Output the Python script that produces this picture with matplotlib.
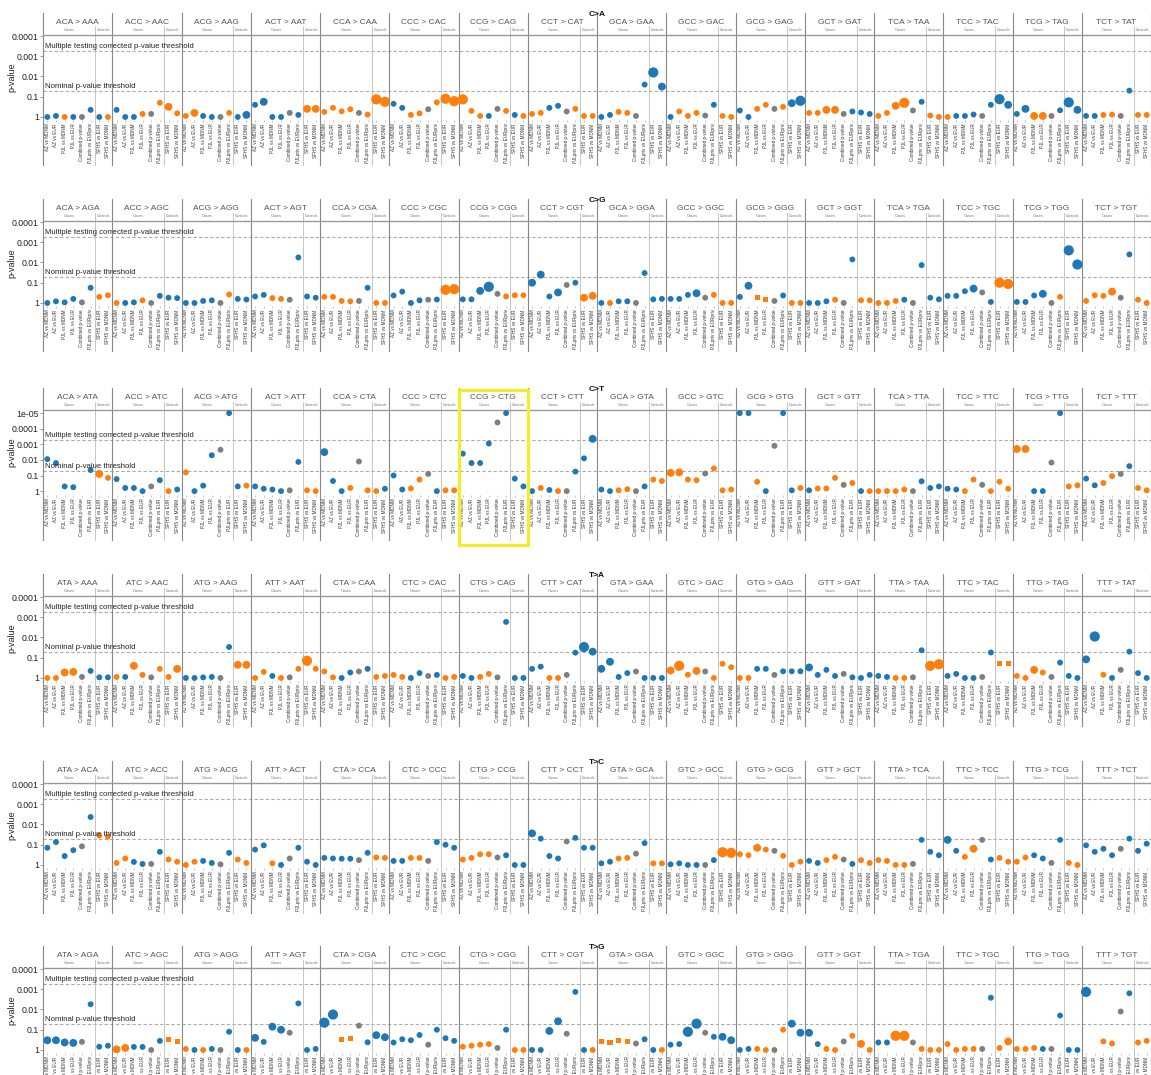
import numpy as np
import matplotlib.pyplot as plt
from matplotlib.transforms import blended_transform_factory
from matplotlib.patches import Rectangle

plt.rcParams['font.family'] = ['Liberation Sans', 'DejaVu Sans']

nan = float('nan')

# comparisons inside each context (6 cases + 2 controls)
comparisons = ["AZ vs MDNM", "AZ vs EUR", "PJL vs MDNM", "PJL vs EUR",
               "Combined p-value", "PJLpriv vs EURpriv", "SFHS vs EUR", "SFHS vs MDNM"]
comparisons_ct = comparisons[:5] + ["PJLpriv vs EUR"] + comparisons[6:]

flank5 = ["A", "A", "A", "A", "C", "C", "C", "C", "G", "G", "G", "G", "T", "T", "T", "T"]
flank3 = ["A", "C", "G", "T"] * 4

# -log10(p), one list of 8 per context
ca_nlp = [[0, 0.05, 0, 0, 0, 0.35, 0, 0], [0.35, 0, 0, 0.15, 0.15, 0.7, 0.5, 0.18],
          [0.05, 0.2, 0.05, 0, 0, 0.2, 0, 0.1], [0.6, 0.75, 0, 0, 0.2, 0.1, 0.4, 0.4],
          [0.25, 0.45, 0.28, 0.38, 0.2, 0.12, 0.87, 0.75], [0.65, 0.45, 0.1, 0.18, 0.38, 0.72, 0.9, 0.78],
          [0.87, 0.3, 0.05, 0.05, 0.4, 0.3, 0.1, 0.05], [0.15, 0.2, 0.45, 0.55, 0.27, 0.4, 0.05, 0.05],
          [0, 0.1, 0.25, 0.2, 0.05, 1.6, 2.2, 1.5], [0, 0.27, 0.05, 0.2, 0.07, 0.6, 0.05, 0],
          [0.32, 0, 0.4, 0.6, 0.4, 0.5, 0.68, 0.8], [0.2, 0.2, 0.35, 0.35, 0.15, 0.27, 0.22, 0.15],
          [0.05, 0.2, 0.55, 0.7, 0.32, 0.75, 0.07, 0], [0, 0.05, 0.05, 0.12, 0.05, 0.6, 0.88, 0.6],
          [0.15, 0.4, 0.05, 0.05, 0.05, 0.33, 0.72, 0.35], [0.05, 0.05, 0.1, 0.12, 0.05, 1.3, 0.1, 0.1]]
ca_col = "bbobgbbo bbbogooo oobbgobb bbbbgboo oooogooo bboogooo ooobgobo oobbgooo " \
         "bboogbbb booogboo bboogobb oooogbbb oooogboo obbbgbbb bboogbbb bboogboo"
ca_size = "11111111 11111121 12111112 12111122 11111133 11111133 31111111 11111111 " \
          "11111132 11111111 11111123 11221111 11231111 11111132 12221132 11111111"

cg_nlp = [[0, 0.08, 0.03, 0.2, 0.03, 0.75, 0.3, 0.38], [0, 0, 0.03, 0.13, 0, 0.35, 0.26, 0.24],
          [0, 0, 0.1, 0.13, 0, 0.42, 0.2, 0.17], [0.32, 0.4, 0.24, 0.2, 0.16, 2.25, 0.32, 0.26],
          [0.3, 0.3, 0.1, 0.08, 0.1, 0.75, 0, 0], [0.37, 0.56, 0, 0.13, 0.16, 0.17, 0.65, 0.68],
          [0.18, 0.18, 0.6, 0.8, 0.45, 0.32, 0.38, 0.38], [1.0, 1.4, 0.32, 0.52, 0.89, 1.0, 0.26, 0.35],
          [0, 0, 0.08, 0.08, 0, 1.48, 0.18, 0.2], [0.2, 0.2, 0.4, 0.48, 0.26, 0.4, 0, 0],
          [0.3, 0.85, 0.26, 0.16, 0.1, 0.37, 0, 0], [0, 0, 0.08, 0.16, 0, 2.15, 0.13, 0.13],
          [0, 0, 0.1, 0.16, 0, 1.87, 0.26, 0.18], [0.35, 0.35, 0.58, 0.71, 0.52, 0.05, 1.0, 0.94],
          [0.05, 0.05, 0.37, 0.45, 0, 0.3, 2.6, 1.9], [0.1, 0.38, 0.35, 0.56, 0.26, 2.4, 0.16, 0]]
cg_col = "bbbbgboo obbogbbb bbbbgobb bboogbbb oooogboo bbbbgboo bbbbgooo bbbbgboo " \
         "bobbgbbb bbbbgooo bbOOgboo bbbogboo ooobgbbb bbbbgboo bbbbgobb oooogboo"
cg_size = "11111111 11111111 11111111 11111111 11111111 11111133 11231111 22121122 " \
          "11111111 11121111 12111111 11111111 11111111 11121133 11121133 11121111"

ct_nlp = [[2.05, 1.8, 0.3, 0.25, nan, 1.35, 1.1, 0.85], [0.77, 0.2, 0.2, 0, 0.3, 0.7, 0, 0.1],
          [1.2, 0, 0.35, 2.3, 2.65, 5.0, 0.3, 0.35], [0.3, 0.15, 0.1, 0, 0.05, 1.87, 0.05, 0],
          [2.5, 0.65, 0, 0.2, 1.9, 0.05, 0, 0.15], [1.0, 0.1, 0.17, 0.74, 1.1, 0, 0.05, 0.05],
          [2.4, 1.8, 1.8, 3.05, 4.4, 5.0, 0.8, 0.3], [0, 0.2, 0.07, 0, 0, 1.25, 2.1, 3.35],
          [0.1, 0, 0.05, 0.12, 0, 0.3, 0.74, 0.65], [1.17, 1.2, 0.74, 0.7, 1.13, 1.45, 0.05, 0.1],
          [5.0, 5.0, 0.6, 0, 2.9, 5.0, 0.05, 0.2], [0.05, 0.17, 0.17, 0.85, 0.4, 0.52, 0, 0],
          [0, 0, 0, 0.1, 0, 0.63, 0.2, 0.3], [0.15, 0.1, 0, 0.74, 0.4, 0, 0.6, 0.15],
          [2.7, 2.7, 0, 0, 1.83, 5.0, 0.3, 0.37], [0.8, 0.37, 0.52, 0.96, 1.1, 1.6, 0.2, 0.05]]
ct_col = "bbbbgboo bbbbgbob obbbgbbo bbbbgboo bbbogoob bboogboo bbbbgbbb bobogbbb " \
         "bboogboo oooogooo bbobgbbo booogobo oooogbbb bboogooo oobbgboo bboogboo"
ct_size = "11111121 11111111 11111111 11111111 21111111 11111111 11111111 11111112 " \
          "11111111 22111111 11111111 11111111 11111111 11111111 22111111 11111111"

ta_nlp = [[0, 0, 0.27, 0.3, 0.05, 0.35, 0.03, 0.03], [0.05, 0.05, 0.6, 0.15, 0.03, 0.45, 0.05, 0.45],
          [0, 0, 0.03, 0.05, 0, 1.53, 0.65, 0.65], [0, 0.3, 0.1, 0, 0.03, 0.45, 0.85, 0.45],
          [0.32, 0.03, 0, 0.27, 0.32, 0.45, 0.05, 0.1], [0.15, 0.05, 0, 0.24, 0.1, 0.15, 0, 0.05],
          [0.1, 0, 0.05, 0.2, 0.03, 2.77, 0, 0], [0.45, 0.56, 0, 0, 0.15, 1.25, 1.53, 1.3],
          [0.45, 0.8, 0.05, 0.24, 0.32, 0, 0, 0], [0.37, 0.6, 0.16, 0.35, 0.32, 0, 0.7, 0.53],
          [0, 0, 0.45, 0.45, 0.15, 0.33, 0.33, 0.33], [0.52, 0.15, 0.4, 0.1, 0.2, 0.03, 0, 0.15],
          [0.1, 0.05, 0, 0, 0.03, 1.37, 0.6, 0.68], [0.1, 0.2, 0, 0, 0.05, 1.26, 0.7, 0.7],
          [0.1, 0, 0.4, 0.27, 0.05, 0.76, 0.1, 0], [0.92, 2.05, 0.16, 0, 0.4, 1.3, 0.24, 0]]
ta_col = "oooogbbb oboogooo bbbbgboo oobogooo oobbgboo oobbgboo bboogbbb bboogbbb " \
         "bbbbgbbb oooogooo oobbgbbb bbbbgbbb bboogboo bbbbgbOO oooogbbb bbobgbbb"
ta_size = "11221111 11211112 11111122 11111131 11111111 11111111 11111111 11111132 " \
          "22111111 23121111 11111111 21111111 11111133 11111111 11211111 23111111"

tc_nlp = [[0.85, 1.13, 0.44, 0.73, 0.92, 2.37, 1.45, 1.4], [0.1, 0.32, 0.15, 0.05, 0.05, 0.65, 0.27, 0.16],
          [0, 0.16, 0.2, 0.1, 0.03, 0.6, 0.27, 0.1], [0.76, 0.97, 0.08, 0, 0.32, 0.85, 0.16, 0],
          [0.35, 0.32, 0.31, 0.31, 0.24, 0.6, 0.37, 0.35], [0.2, 0.2, 0.35, 0.35, 0.2, 1.13, 1.0, 0.85],
          [0.27, 0.35, 0.53, 0.53, 0.37, 0.48, 0, 0], [1.56, 1.3, 0.44, 0.32, 1.16, 1.34, 0.85, 0.85],
          [0.08, 0.16, 0.32, 0.35, 0.56, 1.08, 0.08, 0.08], [0.03, 0.08, 0, 0, 0, 0.24, 0.63, 0.6],
          [0.53, 0.48, 0.85, 0.76, 0.7, 0.45, 0, 0.16], [0.2, 0.1, 0.24, 0.4, 0.27, 0.05, 0.24, 0.1],
          [0.24, 0.2, 0, 0, 0.05, 1.24, 0.65, 0.48], [1.24, 0.7, 0.4, 0.8, 1.24, 0.27, 0.35, 0.16],
          [0.16, 0.37, 0.48, 0.32, 0.1, 1.24, 0.1, 0], [0.97, 0.65, 0.8, 0.48, 0.8, 1.3, 0.7, 1.05]]
tc_col = "bbbbgboo oobbgboo oobbgboo bbobgbbb bbbbgboo bboogbbb oooogbbb bbbbgbbb " \
         "bboogboo bbbbgboo oooogooo bboogboo oooogbbb bboogboo oobbgboo bbbbgbbb"
tc_size = "11111111 11111111 11111111 11111111 11111111 11111111 11111111 21111111 " \
          "11111111 11111133 11211111 11111111 11111111 21121111 11111111 11111111"

tg_nlp = [[0.48, 0.48, 0.37, 0.35, 0.4, 2.26, 0.16, 0.21], [0.03, 0.1, 0.15, 0.15, 0, 0.45, 0.5, 0.4],
          [0.05, 0, 0, 0.05, 0, 0.9, 0, 0], [0.6, 0.4, 1.15, 1.0, 0.85, 2.3, 0, 0.05],
          [1.35, 1.75, 0.5, 0.55, 1.2, 0.38, 0.73, 0.63], [0.37, 0.53, 0.48, 0.74, 0.26, 1.0, 0.58, 0.45],
          [0.16, 0.21, 0.26, 0.29, 0.1, 1.0, 0, 0], [0, 0, 0.94, 1.42, 0.8, 2.87, 0, 0],
          [0.4, 0.35, 0.48, 0.4, 0.32, 0.53, 0, 0], [0.26, 0.29, 0.9, 1.3, 0.85, 0.65, 0.65, 0.48],
          [0, 0.05, 0.05, 0, 0, 1.0, 1.3, 0.85], [0.85, 0.29, 0.05, 0, 0.42, 0.7, 0.3, 0],
          [0.37, 0.37, 0.7, 0.7, 0.37, 0.05, 0, 0], [0.29, 0, 0.05, 0.05, 0.05, 2.58, 0.1, 0.42],
          [0.05, 0.05, 0.1, 0.05, 0.05, 1.7, 0, 0], [2.87, nan, 0.42, 0.32, 1.9, 2.8, 0.37, 0.45]]
tg_col = "bbbbgbbb oobbgbOO obobgbbo bbbbgbbb bbOOgbbb bbbbgbbb oooogboo bbbbgbbo " \
         "OOOOgbbo bbbbgbbb bboogobb bboogooo bboogooo oooogboo ooobgbbb bboogboo"
tg_size = "22221111 22111111 11111111 21221111 33111122 11111111 11111111 11221111 " \
          "11111111 11331122 11111122 21111121 11331111 11111112 11111111 31111111"

rows = [("C>A", "C", "A", ca_nlp, ca_col, ca_size, 35),
        ("C>G", "C", "G", cg_nlp, cg_col, cg_size, 221),
        ("C>T", "C", "T", ct_nlp, ct_col, ct_size, 410),
        ("T>A", "T", "A", ta_nlp, ta_col, ta_size, 596),
        ("T>C", "T", "C", tc_nlp, tc_col, tc_size, 783),
        ("T>G", "T", "G", tg_nlp, tg_col, tg_size, 968)]

nominal = 0.05
corrected = 0.05 / 96

palette = {"b": "#1f77b4", "o": "#ff7f0e", "g": "#7f7f7f"}
size_map = {"1": 18, "2": 32, "3": 54}
tick_text = ["1", "0.1", "0.01", "0.001", "0.0001", "1e-05"]

W, H = 1151, 1075
fig = plt.figure(figsize=(W / 100, H / 100), dpi=100)
ax_h = 85

for title, ref, alt, nlp, col, size, top_px in rows:
    ax = fig.add_axes([43 / W, 1 - (top_px + ax_h) / H, (W - 43) / W, ax_h / H])
    trans = blended_transform_factory(ax.transData, ax.transAxes)
    y = np.array(nlp, dtype=float).ravel()
    c = "".join(col.split())
    s = "".join(size.split())
    x = np.arange(len(y)) + 0.5
    for shape, marker, scale in (("circle", "o", 1.0), ("square", "s", 0.75)):
        idx = [i for i, ch in enumerate(c) if (ch.islower() if shape == "circle" else ch.isupper())]
        if not idx:
            continue
        ax.scatter(x[idx], y[idx], c=[palette[c[i].lower()] for i in idx],
                   s=[size_map[s[i]] * scale for i in idx], marker=marker,
                   linewidths=0, zorder=3)

    ntick = 6 if title == "C>T" else 5
    ymax = 5.2 if title == "C>T" else 4.05
    ymin = -0.25 if title == "C>T" else -0.15
    ax.set_ylim(ymin, ymax)
    ax.set_xlim(0, 128)
    ax.set_yticks(range(ntick))
    ax.set_yticklabels(tick_text[:ntick], fontsize=6.3, color="#222")
    labels = comparisons_ct if title == "C>T" else comparisons
    ax.set_xticks(x)
    ax.set_xticklabels(labels * 16, rotation=90, fontsize=3.3, color="#333")
    ax.tick_params(axis="y", length=2, width=0.6, color="#888", pad=1)
    ax.tick_params(axis="x", length=1.5, width=0.4, color="#999", pad=1)
    for sp in ("left", "right", "bottom"):
        ax.spines[sp].set_visible(False)
    ax.spines["top"].set_color("#999")
    ax.spines["top"].set_linewidth(1.0)

    # thresholds
    for p, txt in ((corrected, "Multiple testing corrected p-value threshold"),
                   (nominal, "Nominal p-value threshold")):
        v = -np.log10(p)
        ax.axhline(v, color="#aaa", lw=0.8, ls=(0, (3, 2)), zorder=1)
        ax.text(0.2, v + 0.04, txt, fontsize=5.6, color="#222", va="bottom", ha="left", zorder=4)

    # facet strips and separators
    ax.plot([0, 0], [-0.53, 1.26], transform=trans, color="#888", lw=0.8, clip_on=False)
    for g in range(16):
        ctx = flank5[g] + ref + flank3[g]
        mut = flank5[g] + alt + flank3[g]
        ax.plot([8 * g + 8] * 2, [-0.53, 1.26], transform=trans, color="#888", lw=0.8, clip_on=False)
        ax.plot([8 * g + 6] * 2, [-0.53, 1.1], transform=trans, color="#bbb", lw=0.6, clip_on=False)
        ax.text(8 * g + 4, 1.145, f"{ctx} > {mut}", transform=trans, ha="center", va="center",
                fontsize=6, color="#555")
        ax.text(8 * g + 3, 1.055, "Cases", transform=trans, ha="center", va="center",
                fontsize=2.8, color="#777")
        ax.text(8 * g + 7, 1.055, "Controls", transform=trans, ha="center", va="center",
                fontsize=2.6, color="#777")

    ax.text(0.5, 1.24, title, transform=ax.transAxes, ha="center", va="center",
            fontsize=6, fontweight="bold", color="#111")
    fig.text(12 / W, 1 - (top_px + ax_h / 2) / H, "p-value", rotation=90,
             ha="center", va="center", fontsize=6.5, color="#222")

    if title == "C>T":
        ax.add_patch(Rectangle((48, -0.59), 8, 1.825, transform=trans, fill=False,
                               edgecolor="#f4ee2a", lw=2.3, clip_on=False, zorder=5))

fig.savefig("out.png", dpi=100)
